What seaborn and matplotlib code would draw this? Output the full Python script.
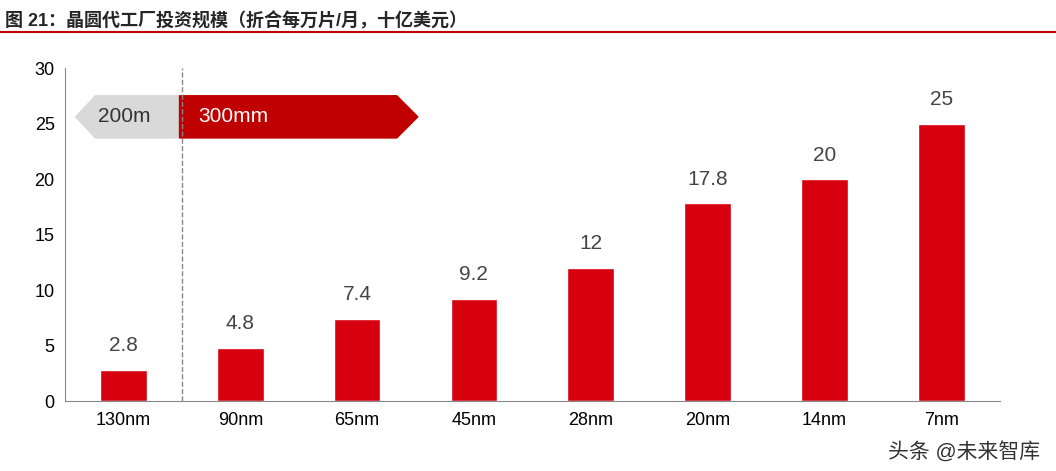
import matplotlib.pyplot as plt
import seaborn as sns
from matplotlib.patches import Polygon

nodes = ["130nm", "90nm", "65nm", "45nm", "28nm", "20nm", "14nm", "7nm"]
invest = [2.8, 4.8, 7.4, 9.2, 12, 17.8, 20, 25]
labels = ["2.8", "4.8", "7.4", "9.2", "12", "17.8", "20", "25"]

sns.set_style("white")
plt.rcParams['font.family'] = ['Liberation Sans', 'Noto Sans CJK SC', 'DejaVu Sans']

fig = plt.figure(figsize=(10.56, 4.71), dpi=100)
ax = fig.add_axes([0.0616, 0.1486, 0.885, 0.707])

sns.barplot(x=nodes, y=invest, color="#D7000F", width=0.4, saturation=1, ax=ax)
for i, (v, t) in enumerate(zip(invest, labels)):
    ax.text(i, v + 1.3, t, ha="center", va="bottom", fontsize=15, color="#444444")

ax.set_xlim(-0.5, 7.5)
ax.set_ylim(0, 30)
ax.set_yticks(range(0, 31, 5))
ax.tick_params(axis="both", labelsize=13, colors="black", length=4, direction="out")
ax.tick_params(axis="x", length=0, pad=8)
ax.set_xticks([i + 0.5 for i in range(-1, 8)], minor=True)
ax.tick_params(axis="x", which="minor", length=5, color="#888888")
for s in ["top", "right"]:
    ax.spines[s].set_visible(False)
ax.spines["left"].set_color("#888888")
ax.spines["bottom"].set_color("#888888")

ax.axvline(0.5, color="#888888", ls="--", lw=1)

# arrows
ax.add_patch(Polygon([(-0.41, 25.6), (-0.24, 27.5), (0.48, 27.5), (0.48, 23.7), (-0.24, 23.7)],
                     closed=True, color="#D9D9D9", clip_on=False))
ax.add_patch(Polygon([(0.48, 23.7), (0.48, 27.5), (2.34, 27.5), (2.52, 25.6), (2.34, 23.7)],
                     closed=True, color="#C00000", clip_on=False))
ax.text(-0.22, 25.6, "200m", fontsize=15, va="center", color="#333333")
ax.text(0.64, 25.6, "300mm", fontsize=15, va="center", color="white")

fig.text(0.005, 0.975, "图 21：晶圆代工厂投资规模（折合每万片/月，十亿美元）",
         fontsize=13, fontweight="bold", va="top", ha="left")
fig.add_artist(plt.Line2D([0, 1], [0.932, 0.932], color="#C00000", lw=1.5))
fig.text(0.985, 0.04, "头条 @未来智库", fontsize=15, ha="right", va="center", color="#333333")

fig.savefig("out.png", dpi=100)
